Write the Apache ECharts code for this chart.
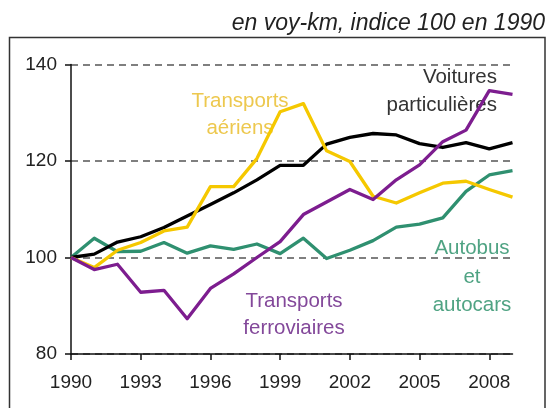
<!DOCTYPE html>
<html><head><meta charset="utf-8">
<script src="https://cdn.jsdelivr.net/npm/echarts@6/dist/echarts.min.js"></script>
<style>html,body{margin:0;padding:0;background:#fff}#c{width:548px;height:408px}</style>
</head><body><div id="c"></div>
<script>
const years = ['1990','1991','1992','1993','1994','1995','1996','1997','1998','1999','2000','2001','2002','2003','2004','2005','2006','2007','2008','2009'];
const voitures = [100, 100.7, 103.2, 104.3, 106.2, 108.6, 111, 113.4, 116.1, 119.1, 119.1, 123.5, 124.9, 125.7, 125.4, 123.6, 122.8, 123.8, 122.5, 123.8];
const aeriens = [100, 97.9, 101.5, 103.1, 105.5, 106.3, 114.7, 114.7, 120.5, 130.2, 131.9, 122.1, 119.9, 112.7, 111.3, 113.4, 115.4, 115.8, 114.1, 112.5];
const ferroviaires = [100, 97.5, 98.6, 92.8, 93.2, 87.3, 93.6, 96.6, 100, 103.3, 108.9, 111.5, 114.1, 112, 116.1, 119.2, 124, 126.4, 134.6, 133.8];
const autobus = [100, 104, 101.2, 101.3, 103.1, 100.9, 102.4, 101.7, 102.8, 100.8, 104, 99.8, 101.5, 103.5, 106.3, 106.9, 108.2, 113.7, 117.1, 118];
const yTicks = [80, 100, 120, 140];

const FONT = 'Liberation Sans, Arial, sans-serif';
const chart = echarts.init(document.getElementById('c'), null, {renderer: 'canvas'});
function line(name, data, color, z) {
  return {name, type: 'line', data, symbol: 'none', z,
    lineStyle: {color, width: 3.3, join: 'round'}, animation: false};
}
chart.setOption({
  animation: false,
  grid: {left: 71, right: 35.5, top: 64.5, bottom: 54},
  xAxis: {
    type: 'category', data: years, boundaryGap: false,
    axisLine: {lineStyle: {color: '#111', width: 1.5}},
    axisTick: {interval: 2, length: 6, lineStyle: {color: '#111', width: 1.5}},
    axisLabel: {interval: 2, margin: 19, color: '#222', fontSize: 19, fontFamily: FONT},
    splitLine: {show: false}
  },
  yAxis: {
    type: 'value', min: yTicks[0], max: yTicks[yTicks.length - 1], interval: 20,
    axisLine: {show: true, lineStyle: {color: '#111', width: 1.5}},
    axisTick: {show: true, length: 6, lineStyle: {color: '#111', width: 1.5}},
    axisLabel: {margin: 14, color: '#222', fontSize: 19, fontFamily: FONT},
    splitLine: {show: true, lineStyle: {color: '#555', width: 1.5, type: [7, 5]}}
  },
  series: [
    line('Autobus et autocars', autobus, '#2F9070', 2),
    line('Voitures particulières', voitures, '#000000', 3),
    line('Transports aériens', aeriens, '#F5C800', 4),
    line('Transports ferroviaires', ferroviaires, '#7D1D8F', 5)
  ],
  graphic: [
    {type: 'rect', shape: {x: 9.5, y: 37.5, width: 535.5, height: 390}, style: {fill: 'none', stroke: '#333', lineWidth: 1.5}, silent: true},
    {type: 'text', x: 545, y: 23.5, style: {text: 'en voy-km, indice 100 en 1990', font: 'italic 23px ' + FONT, fill: '#222', align: 'right', verticalAlign: 'middle'}},
    {type: 'text', x: 240, y: 115, style: {text: 'Transports\naériens', font: '20.5px ' + FONT, lineHeight: 27, fill: '#EDC84E', align: 'center', verticalAlign: 'middle'}, z: 1},
    {type: 'text', x: 497, y: 91, style: {text: 'Voitures\nparticulières', font: '20.5px ' + FONT, lineHeight: 28, fill: '#333', align: 'right', verticalAlign: 'middle'}, z: 1},
    {type: 'text', x: 294, y: 315, style: {text: 'Transports\nferroviaires', font: '20.5px ' + FONT, lineHeight: 27, fill: '#83489A', align: 'center', verticalAlign: 'middle'}, z: 1},
    {type: 'text', x: 472, y: 277, style: {text: 'Autobus\net\nautocars', font: '20.5px ' + FONT, lineHeight: 28.5, fill: '#4FA383', align: 'center', verticalAlign: 'middle'}, z: 1}
  ]
});
</script></body></html>
